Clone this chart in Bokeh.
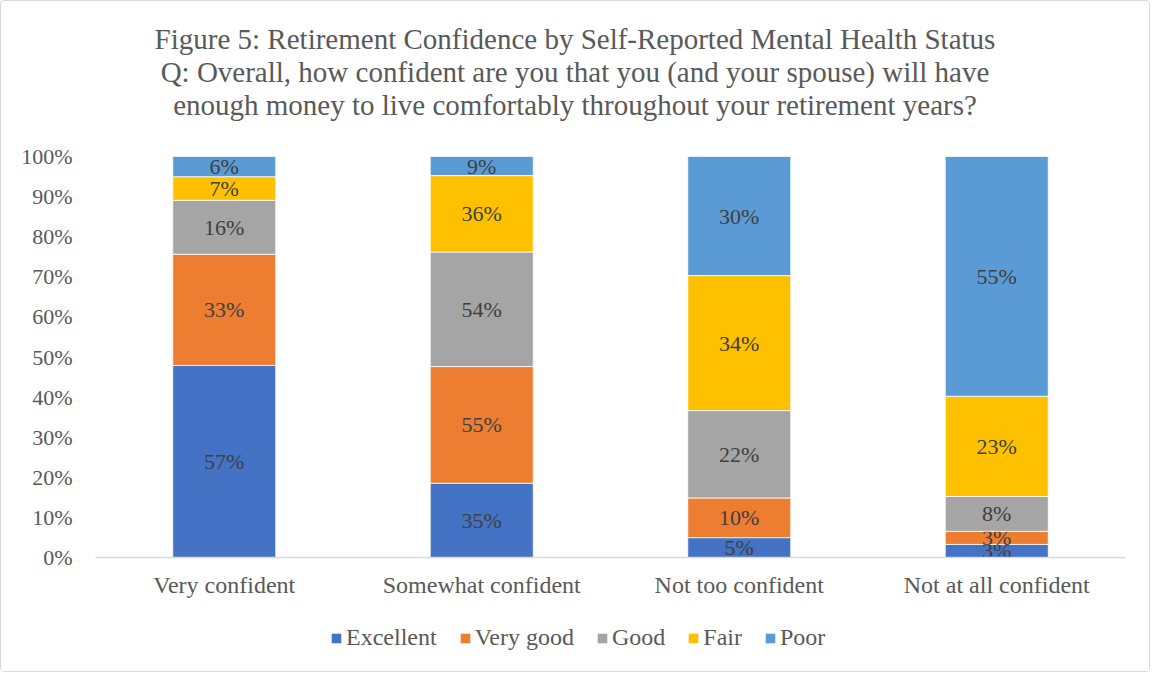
from bokeh.plotting import figure
from bokeh.models import (FactorRange, Range1d, NumeralTickFormatter, Legend, LegendItem,
                          ColumnDataSource, FixedTicker, Div)
from bokeh.layouts import column
from bokeh.core.properties import value
from bokeh.embed import file_html
from bokeh.resources import INLINE

categories = ["Very confident", "Somewhat confident", "Not too confident", "Not at all confident"]
series = ["Excellent", "Very good", "Good", "Fair", "Poor"]
excellent = [57, 35, 5, 3]
very_good = [33, 55, 10, 3]
good = [16, 54, 22, 8]
fair = [7, 36, 34, 23]
poor = [6, 9, 30, 55]
colors = ["#4472C4", "#ED7D31", "#A5A5A5", "#FFC000", "#5B9BD5"]
y_ticks = [0, 0.1, 0.2, 0.3, 0.4, 0.5, 0.6, 0.7, 0.8, 0.9, 1.0]
title_lines = ["Figure 5: Retirement Confidence by Self-Reported Mental Health Status",
               "Q: Overall, how confident are you that you (and your spouse) will have",
               "enough money to live comfortably throughout your retirement years?"]

values = [excellent, very_good, good, fair, poor]
totals = [sum(v[i] for v in values) for i in range(len(categories))]

FONT = "Liberation Serif"
W = 1148
DIV_H = 130
LEG_H = 57

title_div = Div(text="<br>".join(title_lines), width=W, height=DIV_H, margin=0,
                styles={"font-family": FONT, "font-size": "29px", "line-height": "33px",
                        "color": "#595959", "text-align": "center", "padding-top": "22px",
                        "width": f"{W}px", "box-sizing": "border-box"})

p = figure(x_range=FactorRange(*categories, range_padding=0), y_range=Range1d(0, 1),
           frame_width=1030, frame_height=401, output_backend="svg", toolbar_location=None,
           min_border_left=94, min_border_right=W - 94 - 1030, min_border_top=155 - DIV_H,
           min_border_bottom=57, margin=0)

bottoms = [0.0] * len(categories)
for name, vals, col in zip(series, values, colors):
    fr = [v / t for v, t in zip(vals, totals)]
    top = [b + f for b, f in zip(bottoms, fr)]
    mid = [(b + t) / 2 for b, t in zip(bottoms, top)]
    src = ColumnDataSource(dict(x=categories, bottom=bottoms, top=top, mid=mid,
                                lab=[f"{v}%" for v in vals]))
    p.vbar(x="x", bottom="bottom", top="top", width=0.4, source=src,
           fill_color=col, line_color="white", line_width=0.8)
    p.text(x="x", y="mid", text="lab", source=src, text_align="center", text_baseline="middle",
           text_font=value(FONT), text_font_size="22px", text_color="#404040")
    bottoms = top

p.xgrid.grid_line_color = None
p.ygrid.grid_line_color = None
p.outline_line_color = None

p.yaxis.ticker = FixedTicker(ticks=y_ticks)
p.yaxis.formatter = NumeralTickFormatter(format="0%")
p.yaxis.axis_line_color = None
p.yaxis.major_tick_line_color = None
p.yaxis.minor_tick_line_color = None
p.yaxis.major_tick_out = 0
p.yaxis.major_tick_in = 0
p.yaxis.major_label_standoff = 23
p.yaxis.major_label_text_font = FONT
p.yaxis.major_label_text_font_size = "22px"
p.yaxis.major_label_text_color = "#595959"

p.xaxis.axis_line_color = "#D9D9D9"
p.xaxis.axis_line_width = 1.5
p.xaxis.major_tick_line_color = None
p.xaxis.minor_tick_line_color = None
p.xaxis.major_tick_out = 0
p.xaxis.major_tick_in = 0
p.xaxis.major_label_standoff = 14
p.xaxis.major_label_text_font = FONT
p.xaxis.major_label_text_font_size = "24px"
p.xaxis.major_label_text_color = "#595959"

# legend strip below the chart (zero-height bars carry the legend swatches)
pl = figure(width=W, height=LEG_H, x_range=FactorRange(*categories, range_padding=0),
            y_range=Range1d(0, 1), output_backend="svg", toolbar_location=None,
            x_axis_location=None, y_axis_location=None, min_border=0, margin=0)
pl.xgrid.grid_line_color = None
pl.ygrid.grid_line_color = None
pl.outline_line_color = None
items = []
for name, col in zip(series, colors):
    r = pl.vbar(x=categories, top=0, bottom=0, width=0.4, fill_color=col, line_color=None)
    items.append(LegendItem(label=name, renderers=[r]))
legend = Legend(items=items, orientation="horizontal", location=(235, 20),
                label_text_font=FONT, label_text_font_size="24px", label_text_color="#595959",
                glyph_width=12, glyph_height=12, label_standoff=4, spacing=22,
                border_line_color=None, background_fill_alpha=0, margin=0, padding=0)
pl.add_layout(legend, "center")

layout = column(title_div, p, pl, spacing=0,
                styles={"border": "1px solid #D9D9D9", "border-radius": "4px",
                        "background-color": "white"})

open("out.html", "w").write(file_html(layout, INLINE))
